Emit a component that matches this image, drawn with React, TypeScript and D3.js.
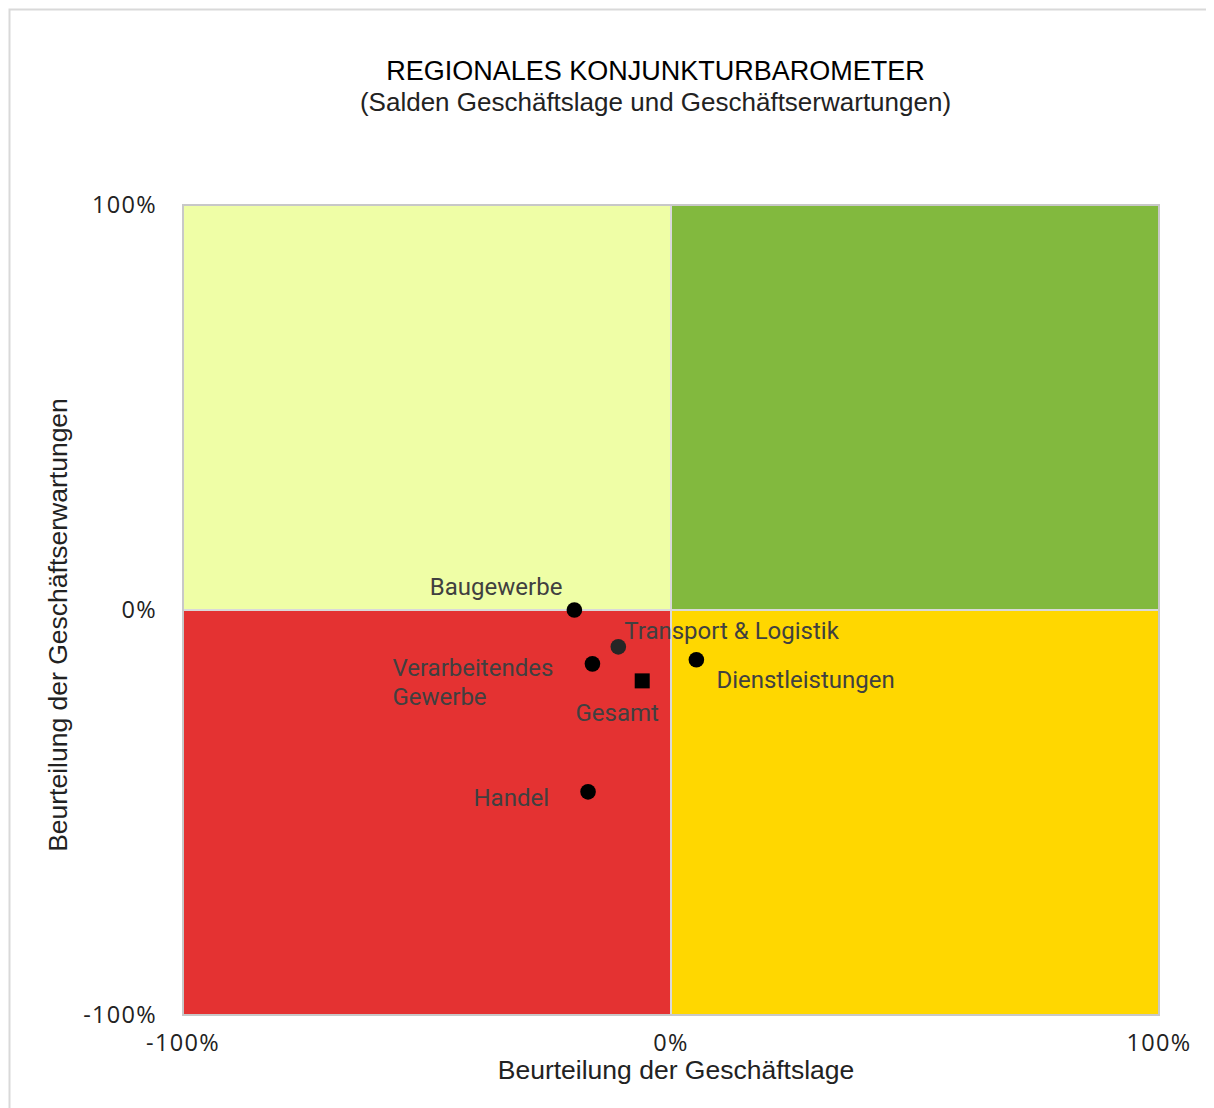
import React from "react";
import * as d3 from "d3";

const sectors = ["Baugewerbe", "Transport & Logistik", "Verarbeitendes Gewerbe", "Gesamt", "Dienstleistungen", "Handel"];
const geschaeftslage = [-19.8, -10.8, -16.1, -5.9, 5.2, -17.0];
const erwartungen = [0, -9.1, -13.3, -17.5, -12.3, -44.9];
const markerShapes = ["circle", "circle", "circle", "square", "circle", "circle"];
const markerColors = ["#000000", "#262626", "#000000", "#000000", "#000000", "#000000"];
const labelLines = [["Baugewerbe"], ["Transport & Logistik"], ["Verarbeitendes", "Gewerbe"], ["Gesamt"], ["Dienstleistungen"], ["Handel"]];
// label placement relative to the marker: [dx, dy, anchor]
const labelPlacement: [number, number, string][] = [
  [-12, -15, "end"],
  [6, -8, "start"],
  [-200, 12, "start"],
  [-25, 40, "middle"],
  [20, 28, "start"],
  [-39, 14, "end"],
];
const xTicks = [-100, 0, 100];
const yTicks = [-100, 0, 100];
const quadrants = [
  { x0: -100, x1: 0, y0: 0, y1: 100, color: "#EFFEA6" },
  { x0: 0, x1: 100, y0: 0, y1: 100, color: "#82B93E" },
  { x0: -100, x1: 0, y0: -100, y1: 0, color: "#E43232" },
  { x0: 0, x1: 100, y0: -100, y1: 0, color: "#FFD700" },
];

export default function App() {
  const x = d3.scaleLinear().domain([-100, 100]).range([183, 1159]);
  const y = d3.scaleLinear().domain([-100, 100]).range([1015, 205]);
  const fmt = (v: number) => `${v}%`;
  const tickFont = "'Open Sans', 'Noto Sans', sans-serif";
  const helv = "'Liberation Sans', Arial, sans-serif";
  const lblFont = "Roboto, 'Noto Sans', sans-serif";
  return (
    <svg width={1230} height={1120} style={{ display: "block" }}>
      <g transform="translate(-8,-8)">
        <rect x={9.5} y={9.5} width={1240} height={1120} fill="#ffffff" stroke="#d9d9d9" strokeWidth={2} />
        <text x={655.5} y={80} textAnchor="middle" fontFamily={helv} fontSize={27} fill="#000">
          REGIONALES KONJUNKTURBAROMETER
        </text>
        <text x={655.5} y={111} textAnchor="middle" fontFamily={helv} fontSize={26} fill="#222">
          (Salden Geschäftslage und Geschäftserwartungen)
        </text>
        {quadrants.map((q, i) => (
          <rect
            key={i}
            x={x(q.x0)}
            y={y(q.y1)}
            width={x(q.x1) - x(q.x0)}
            height={y(q.y0) - y(q.y1)}
            fill={q.color}
          />
        ))}
        <line x1={x(0)} x2={x(0)} y1={y(100)} y2={y(-100)} stroke="#d9d9d9" strokeWidth={2} />
        <line x1={x(-100)} x2={x(100)} y1={y(0)} y2={y(0)} stroke="#d9d9d9" strokeWidth={2} />
        <rect x={x(-100)} y={y(100)} width={x(100) - x(-100)} height={y(-100) - y(100)} fill="none" stroke="#c8c8c8" strokeWidth={2} />
        {yTicks.map((t) => (
          <text key={"y" + t} x={157} y={y(t) + 8} textAnchor="end" fontFamily={tickFont} fontSize={23.5} letterSpacing={1.3} fill="#222">
            {fmt(t)}
          </text>
        ))}
        {xTicks.map((t) => (
          <text key={"x" + t} x={x(t)} y={1051} textAnchor="middle" fontFamily={tickFont} fontSize={23.5} letterSpacing={1.3} fill="#222">
            {fmt(t)}
          </text>
        ))}
        <text x={676} y={1079} textAnchor="middle" fontFamily={helv} fontSize={26.5} fill="#222">
          Beurteilung der Geschäftslage
        </text>
        <text transform={`translate(67,625) rotate(-90)`} textAnchor="middle" fontFamily={helv} fontSize={26.5} fill="#222">
          Beurteilung der Geschäftserwartungen
        </text>
        {sectors.map((s, i) => {
          const cx = x(geschaeftslage[i]);
          const cy = y(erwartungen[i]);
          return markerShapes[i] === "square" ? (
            <rect key={s} x={cx - 7.5} y={cy - 7.5} width={15} height={15} fill={markerColors[i]} />
          ) : (
            <circle key={s} cx={cx} cy={cy} r={7.8} fill={markerColors[i]} />
          );
        })}
        {sectors.map((s, i) => {
          const cx = x(geschaeftslage[i]);
          const cy = y(erwartungen[i]);
          const [dx, dy, anchor] = labelPlacement[i];
          return (
            <text key={"l" + s} x={cx + dx} y={cy + dy} textAnchor={anchor as any} fontFamily={lblFont} fontSize={24} fill="#404040">
              {labelLines[i].map((ln, j) => (
                <tspan key={j} x={cx + dx} dy={j === 0 ? 0 : 29}>
                  {ln}
                </tspan>
              ))}
            </text>
          );
        })}
      </g>
    </svg>
  );
}
